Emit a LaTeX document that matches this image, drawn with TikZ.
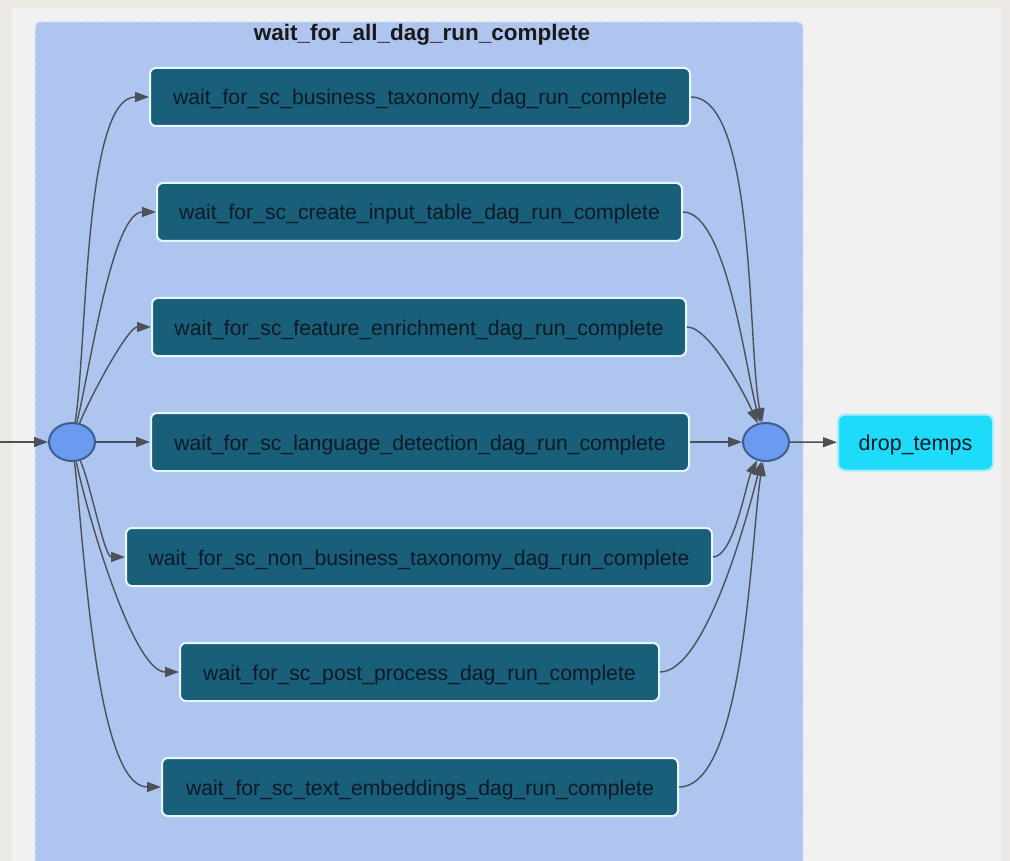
\documentclass[tikz,border=0pt]{standalone}
\usepackage{fontspec}
\setmainfont{Liberation Sans}
\usetikzlibrary{shapes.geometric,arrows.meta}
\definecolor{pagebg}{HTML}{ECE9E4}
\definecolor{canvas}{HTML}{F1F1F1}
\definecolor{groupfill}{HTML}{ADC5EF}
\definecolor{groupline}{HTML}{D6E2F6}
\definecolor{taskfill}{HTML}{1A5F79}
\definecolor{taskline}{HTML}{E4F6FF}
\definecolor{tasktext}{HTML}{0C1A28}
\definecolor{joinfill}{HTML}{6B9BF0}
\definecolor{joinline}{HTML}{3E5E8E}
\definecolor{dropfill}{HTML}{1EDBFA}
\definecolor{dropline}{HTML}{A6EEFF}
\definecolor{edgecol}{HTML}{4C5158}
\tikzset{
  task/.style={draw=taskline, line width=2pt, fill=taskfill, rounded corners=6pt,
    text=tasktext, font=\fontsize{21.2}{25}\selectfont, minimum height=58pt,
    text height=16pt, text depth=0pt, inner sep=0pt, anchor=center},
  joinpoint/.style={ellipse, draw=joinline, line width=2pt, fill=joinfill,
    minimum width=46pt, minimum height=38pt, inner sep=0pt},
  edge/.style={draw=edgecol, line width=1.4pt, -{Triangle[length=14pt,width=10pt]}},
  fanout/.style={out looseness=0.6, in looseness=0.5},
  fanin/.style={out looseness=0.5, in looseness=0.6},
}
\begin{document}
\begin{tikzpicture}[x=1pt,y=-1pt]
\useasboundingbox (0,0) rectangle (1010,861);
% page and canvas
\fill[pagebg] (0,0) rectangle (1010,861);
\fill[canvas] (12,8) rectangle (1001,861);
% task group
\fill[groupfill, rounded corners=5pt] (35,22) rectangle (803,875);
\draw[groupline, line width=1.5pt, dash pattern=on 4pt off 3pt, rounded corners=5pt] (35,22) rectangle (803,875);
\node[font=\bfseries\fontsize{22.5}{26}\selectfont, text=black!90] (title) at (422,35) {wait\_for\_all\_dag\_run\_complete};
% join points
\node[joinpoint] (L) at (72,442) {};
\node[joinpoint] (R) at (766,442) {};
\coordinate (in) at (0,442);
% tasks
\node[task, minimum width=540pt] (t1) at (420,97) {wait\_for\_sc\_business\_taxonomy\_dag\_run\_complete};
\node[task, minimum width=525pt] (t2) at (419.5,212) {wait\_for\_sc\_create\_input\_table\_dag\_run\_complete};
\node[task, minimum width=534pt] (t3) at (419,327) {wait\_for\_sc\_feature\_enrichment\_dag\_run\_complete};
\node[task, minimum width=538pt] (t4) at (420,442) {wait\_for\_sc\_language\_detection\_dag\_run\_complete};
\node[task, minimum width=586pt] (t5) at (419,557) {wait\_for\_sc\_non\_business\_taxonomy\_dag\_run\_complete};
\node[task, minimum width=479pt] (t6) at (419.5,672) {wait\_for\_sc\_post\_process\_dag\_run\_complete};
\node[task, minimum width=516pt] (t7) at (420,787) {wait\_for\_sc\_text\_embeddings\_dag\_run\_complete};
\node[draw=dropline, line width=2pt, fill=dropfill, rounded corners=7pt, text=tasktext,
  font=\fontsize{21.5}{25}\selectfont, minimum width=155pt, minimum height=56pt,
  text height=16pt, text depth=0pt, inner sep=0pt]
  (drop) at (915.5,442.5) {drop\_temps};
% edges into the group
\draw[edge] (in) -- (L);
\draw[edge, fanout] (L) to[out=81,in=180] (t1.west);
\draw[edge, fanout] (L) to[out=76,in=180] (t2.west);
\draw[edge, fanout] (L) to[out=68,in=180] (t3.west);
\draw[edge] (L) -- (t4.west);
\draw[edge, fanout] (L) to[out=-66,in=180] (t5.west);
\draw[edge, fanout] (L) to[out=-78,in=180] (t6.west);
\draw[edge, fanout] (L) to[out=-83,in=180] (t7.west);
% edges out of the group
\draw[edge, fanin] (t1.east) to[out=0,in=101] (R);
\draw[edge, fanin] (t2.east) to[out=0,in=106] (R);
\draw[edge, fanin] (t3.east) to[out=0,in=114] (R);
\draw[edge] (t4.east) -- (R);
\draw[edge, fanin] (t5.east) to[out=0,in=-116] (R);
\draw[edge, fanin] (t6.east) to[out=0,in=-104] (R);
\draw[edge, fanin] (t7.east) to[out=0,in=-99] (R);
\draw[edge] (R) -- (drop);
\end{tikzpicture}
\end{document}
